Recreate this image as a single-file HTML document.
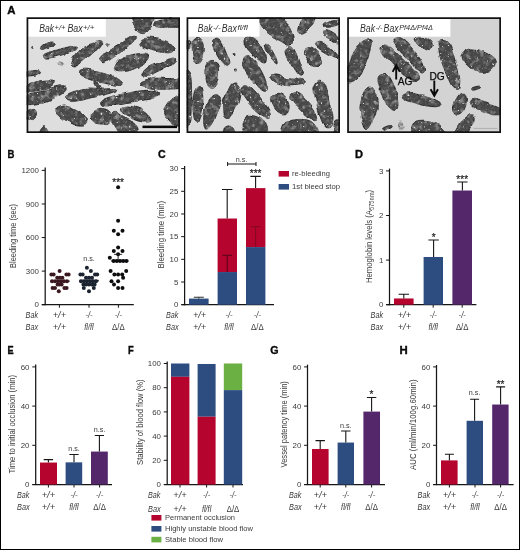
<!DOCTYPE html>
<html lang="en"><head><meta charset="utf-8"><title>Figure</title>
<style>html,body{margin:0;padding:0;background:#fff}body{width:520px;height:550px;overflow:hidden}svg{display:block;font-family:"Liberation Sans",sans-serif}</style>
</head><body>
<svg width="520" height="550" viewBox="0 0 520 550">
<defs><filter id="bl" filterUnits="userSpaceOnUse" x="20" y="10" width="490" height="130"><feTurbulence type="fractalNoise" baseFrequency="0.075" numOctaves="2" seed="5" result="t"/><feDisplacementMap in="SourceGraphic" in2="t" scale="5" xChannelSelector="R" yChannelSelector="G" result="d"/><feTurbulence type="fractalNoise" baseFrequency="0.38" numOctaves="2" seed="8" result="n"/><feColorMatrix in="n" type="matrix" values="0 0 0 0 0.8  0 0 0 0 0.8  0 0 0 0 0.8  8 0 0 0 -5.75" result="sp"/><feComposite in="sp" in2="d" operator="in" result="spi"/><feColorMatrix in="n" type="matrix" values="0 0 0 0 0.1  0 0 0 0 0.1  0 0 0 0 0.1  0 4 0 0 -1.9" result="dk"/><feComposite in="dk" in2="d" operator="in" result="dki"/><feTurbulence type="fractalNoise" baseFrequency="0.2" numOctaves="2" seed="21" result="n2"/><feColorMatrix in="n2" type="matrix" values="0 0 0 0 0.46  0 0 0 0 0.46  0 0 0 0 0.46  2 0 0 0 -1.02" result="mo"/><feComposite in="mo" in2="d" operator="in" result="moi"/><feMerge result="m"><feMergeNode in="d"/><feMergeNode in="moi"/><feMergeNode in="dki"/><feMergeNode in="spi"/></feMerge><feGaussianBlur in="m" stdDeviation="0.4"/></filter></defs>
<rect x="0" y="0" width="520" height="550" fill="#fff"/>
<g>
<clipPath id="cp1"><rect x="26.6" y="17.3" width="153.4" height="115.7"/></clipPath>
<rect x="26.6" y="17.3" width="153.4" height="115.7" fill="#dedede"/>
<g clip-path="url(#cp1)">
<g filter="url(#bl)">
<path d="M40.79 46.93C41.35 46.08 42.67 44.91 44.17 44.11C45.68 43.31 48.17 42.37 49.81 42.14C51.46 41.9 53.48 42.14 54.04 42.7C54.61 43.26 54.14 44.82 53.2 45.52C52.26 46.23 50 46.32 48.4 46.93C46.8 47.54 44.88 48.81 43.61 49.19C42.34 49.56 41.26 49.56 40.79 49.19C40.32 48.81 40.22 47.78 40.79 46.93Z" fill="#464646" stroke="#1c1c1c" stroke-width="0.9"/>
<path d="M44.39 54.37C45.99 53.43 50.03 51.78 53.41 50.7C56.8 49.62 61.17 48.68 64.69 47.88C68.22 47.08 72.45 46 74.56 45.91C76.68 45.81 77.38 46.52 77.38 47.32C77.38 48.12 76.68 49.53 74.56 50.7C72.45 51.88 67.98 53.29 64.69 54.37C61.4 55.45 57.88 56.58 54.82 57.19C51.77 57.8 48.2 58.17 46.36 58.03C44.53 57.89 44.15 56.95 43.82 56.34C43.5 55.73 42.79 55.31 44.39 54.37Z" fill="#464646" stroke="#1c1c1c" stroke-width="0.9"/>
<path d="M71.88 61.5C72.59 59.76 74.23 56.8 76.11 54.45C77.99 52.1 80.34 49.28 83.16 47.4C85.98 45.52 90.21 44.11 93.03 43.17C95.85 42.23 98.67 41.43 100.08 41.76C101.49 42.09 101.96 43.73 101.49 45.14C101.02 46.55 99.14 48.67 97.26 50.22C95.38 51.77 92.8 52.57 90.21 54.45C87.63 56.33 84.1 59.62 81.75 61.5C79.4 63.38 77.76 65.17 76.11 65.73C74.47 66.29 72.59 65.59 71.88 64.88C71.18 64.18 71.18 63.24 71.88 61.5Z" fill="#464646" stroke="#1c1c1c" stroke-width="0.9"/>
<path d="M100.6 58.42C101.77 56.78 104.59 53.72 107.65 51.37C110.7 49.02 115.4 46.67 118.93 44.32C122.45 41.97 126.21 38.77 128.8 37.27C131.38 35.77 133.17 35.16 134.44 35.3C135.71 35.44 137.12 36.61 136.41 38.12C135.71 39.62 132.65 42.11 130.21 44.32C127.76 46.53 124.8 49.02 121.75 51.37C118.69 53.72 114.79 56.54 111.88 58.42C108.96 60.3 106.14 62.18 104.26 62.65C102.38 63.12 101.21 61.95 100.6 61.24C99.99 60.54 99.42 60.07 100.6 58.42Z" fill="#464646" stroke="#1c1c1c" stroke-width="0.9"/>
<path d="M132.5 16.4C135.4 14.8 148.65 15.3 152 16.4C155.35 17.5 153 20.9 152.6 23C152.2 25.1 150.95 27.25 149.6 29C148.25 30.75 146.35 33 144.5 33.5C142.65 34 140.15 33.25 138.5 32C136.85 30.75 135.6 28.6 134.6 26C133.6 23.4 129.6 18 132.5 16.4Z" fill="#464646" stroke="#1c1c1c" stroke-width="0.9"/>
<path d="M155 23.6C155.5 22.6 156 20.8 158 20C160 19.2 162.75 18.9 167 18.8C171.25 18.7 180.75 18.1 183.5 19.4C186.25 20.7 185.75 25.3 183.5 26.6C181.25 27.9 174 27.1 170 27.2C166 27.3 162 27.4 159.5 27.2C157 27 155.75 26.6 155 26C154.25 25.4 154.5 24.6 155 23.6Z" fill="#464646" stroke="#1c1c1c" stroke-width="0.9"/>
<path d="M135.2 29C135.4 28.7 136.4 28.5 136.7 28.7C137 28.9 137.2 29.9 137 30.2C136.8 30.5 135.8 30.7 135.5 30.5C135.2 30.3 135 29.3 135.2 29Z" fill="#464646" stroke="#1c1c1c" stroke-width="0.9"/>
<path d="M105.2 44C105.4 43.7 106.4 43.5 106.7 43.7C107 43.9 107.2 44.9 107 45.2C106.8 45.5 105.8 45.7 105.5 45.5C105.2 45.3 105 44.3 105.2 44Z" fill="#464646" stroke="#1c1c1c" stroke-width="0.9"/>
<path d="M140.39 42.69C141.19 41.66 142.27 39.07 145.18 38.46C148.1 37.85 153.88 38.32 157.87 39.03C161.87 39.73 166.47 41.38 169.15 42.69C171.83 44.01 173.48 45.37 173.95 46.92C174.42 48.47 173.71 51.06 171.97 52C170.23 52.94 166.8 52.84 163.51 52.56C160.22 52.28 155.52 51.15 152.23 50.31C148.94 49.46 145.75 48.43 143.77 47.49C141.8 46.55 140.95 45.46 140.39 44.67C139.82 43.87 139.59 43.73 140.39 42.69Z" fill="#464646" stroke="#1c1c1c" stroke-width="0.9"/>
<path d="M114.06 66.28C115 64.4 116.88 61.11 119.7 59.23C122.52 57.35 126.98 56.03 130.98 55C134.97 53.97 140.75 53.03 143.67 53.03C146.58 53.03 147.99 53.73 148.46 55C148.93 56.27 147.99 58.76 146.49 60.64C144.98 62.52 142.26 64.64 139.44 66.28C136.62 67.93 132.86 69.57 129.57 70.51C126.28 71.45 122.28 71.92 119.7 71.92C117.11 71.92 115 71.45 114.06 70.51C113.12 69.57 113.12 68.16 114.06 66.28Z" fill="#464646" stroke="#1c1c1c" stroke-width="0.9"/>
<path d="M142.54 72.2C143.71 70.79 146.53 68.2 149.59 66.56C152.64 64.91 157.11 63.74 160.87 62.33C164.63 60.92 169.56 58.57 172.15 58.1C174.73 57.63 175.91 58.71 176.38 59.51C176.85 60.31 176.61 61.48 174.97 62.89C173.32 64.3 169.8 66.18 166.51 67.97C163.22 69.75 158.52 72.2 155.23 73.61C151.94 75.02 148.88 76.19 146.77 76.43C144.65 76.66 143.24 75.72 142.54 75.02C141.83 74.31 141.36 73.61 142.54 72.2Z" fill="#464646" stroke="#1c1c1c" stroke-width="0.9"/>
<path d="M79.84 71.4C80.63 70.46 82.66 69.24 85.48 69.15C88.3 69.05 92.76 69.99 96.76 70.84C100.75 71.68 105.69 72.72 109.45 74.22C113.21 75.73 117.06 78.22 119.32 79.86C121.57 81.51 122.98 83.15 122.98 84.09C122.98 85.03 121.57 85.5 119.32 85.5C117.06 85.5 112.97 84.66 109.45 84.09C105.92 83.53 101.93 83.06 98.17 82.12C94.41 81.18 89.8 79.67 86.89 78.45C83.97 77.23 81.86 75.96 80.68 74.79C79.51 73.61 79.04 72.34 79.84 71.4Z" fill="#464646" stroke="#1c1c1c" stroke-width="0.9"/>
<path d="M141.5 81.5C143.25 80.5 147.75 79 152 78.5C156.25 78 162 78.25 167 78.5C172 78.75 179.5 78.5 182 80C184.5 81.5 184 86 182 87.5C180 89 174 88.75 170 89C166 89.25 162 89.4 158 89C154 88.6 148.75 87.35 146 86.6C143.25 85.85 142.25 85.35 141.5 84.5C140.75 83.65 139.75 82.5 141.5 81.5Z" fill="#464646" stroke="#1c1c1c" stroke-width="0.9"/>
<path d="M26 72.5C27.75 71.4 34.1 70.4 36.5 70.4C38.9 70.4 40.4 71.65 40.4 72.5C40.4 73.35 38.9 74.75 36.5 75.5C34.1 76.25 27.75 77.5 26 77C24.25 76.5 24.25 73.6 26 72.5Z" fill="#464646" stroke="#1c1c1c" stroke-width="0.9"/>
<path d="M26 85.4C28 83.6 33.75 82.1 38 81.2C42.25 80.3 48.75 79.8 51.5 80C54.25 80.2 54.75 81.3 54.5 82.4C54.25 83.5 52.5 85.3 50 86.6C47.5 87.9 43.5 89.3 39.5 90.2C35.5 91.1 28.25 92.8 26 92C23.75 91.2 24 87.2 26 85.4Z" fill="#464646" stroke="#1c1c1c" stroke-width="0.9"/>
<path d="M26 95.6C28.5 93.5 36 92.9 41 91.4C46 89.9 52.1 87.5 56 86.6C59.9 85.7 62.8 85.35 64.4 86C66 86.65 66.5 88.9 65.6 90.5C64.7 92.1 62.1 93.85 59 95.6C55.9 97.35 51 99.6 47 101C43 102.4 38.5 103.5 35 104C31.5 104.5 27.5 105.4 26 104C24.5 102.6 23.5 97.7 26 95.6Z" fill="#464646" stroke="#1c1c1c" stroke-width="0.9"/>
<path d="M65.94 96.37C67.11 94.96 71.58 93.31 74.96 92.14C78.35 90.96 82.48 89.79 86.24 89.32C90 88.85 92.82 89.41 97.52 89.32C102.22 89.23 111.39 88.52 114.44 88.76C117.5 88.99 116.79 89.93 115.85 90.73C114.91 91.53 111.86 92.61 108.8 93.55C105.75 94.49 101.28 95.43 97.52 96.37C93.76 97.31 90 98.39 86.24 99.19C82.48 99.99 78.02 100.93 74.96 101.16C71.91 101.4 69.42 101.4 67.91 100.6C66.41 99.8 64.76 97.78 65.94 96.37Z" fill="#464646" stroke="#1c1c1c" stroke-width="0.9"/>
<path d="M101.33 100.83C102.83 99.42 107.2 97.77 111.2 96.6C115.19 95.42 120.6 94.72 125.3 93.78C130 92.84 134.7 91.52 139.4 90.96C144.1 90.39 150.21 90.16 153.5 90.39C156.79 90.63 158.43 91.33 159.14 92.37C159.84 93.4 159.61 95.42 157.73 96.6C155.85 97.77 151.85 98.62 147.86 99.42C143.86 100.21 138.46 100.68 133.76 101.39C129.06 102.09 123.89 102.89 119.66 103.65C115.43 104.4 111.29 105.67 108.38 105.9C105.46 106.14 103.35 105.9 102.17 105.06C101 104.21 99.82 102.24 101.33 100.83Z" fill="#464646" stroke="#1c1c1c" stroke-width="0.9"/>
<path d="M56.97 108.95C57.44 107.31 60.26 106.37 62.61 106.13C64.96 105.9 68.02 106.37 71.07 107.54C74.13 108.72 78.36 111.07 80.94 113.18C83.53 115.3 85.88 118.26 86.58 120.24C87.29 122.21 86.58 124.09 85.17 125.03C83.76 125.97 80.94 126.44 78.12 125.88C75.3 125.31 71.31 123.29 68.25 121.65C65.2 120 61.67 118.12 59.79 116C57.91 113.89 56.5 110.6 56.97 108.95Z" fill="#464646" stroke="#1c1c1c" stroke-width="0.9"/>
<path d="M90.31 114.65C91.11 112.63 94.31 109.95 96.8 109.01C99.29 108.07 102.91 108.31 105.26 109.01C107.61 109.72 109.82 111.36 110.9 113.24C111.98 115.12 112.45 118.41 111.75 120.29C111.04 122.17 108.93 123.82 106.67 124.52C104.41 125.23 100.65 125.09 98.21 124.52C95.77 123.96 93.32 122.79 92.01 121.14C90.69 119.5 89.51 116.67 90.31 114.65Z" fill="#464646" stroke="#1c1c1c" stroke-width="0.9"/>
<path d="M112.4 114.5C113.15 113.4 114.15 111.9 116 112.4C117.85 112.9 120.75 115.9 123.5 117.5C126.25 119.1 130.25 120.25 132.5 122C134.75 123.75 136.75 125.75 137 128C137.25 130.25 136.5 134.25 134 135.5C131.5 136.75 125.25 137.25 122 135.5C118.75 133.75 116.25 127.75 114.5 125C112.75 122.25 111.85 120.75 111.5 119C111.15 117.25 111.65 115.6 112.4 114.5Z" fill="#464646" stroke="#1c1c1c" stroke-width="0.9"/>
<path d="M122.25 108.85C123.28 107.77 125.54 106.03 128.45 106.03C131.37 106.03 136.44 107.44 139.73 108.85C143.02 110.26 146.31 112.61 148.19 114.49C150.07 116.37 151.48 118.86 151.01 120.13C150.54 121.4 147.96 122.11 145.37 122.11C142.79 122.11 138.56 121.17 135.5 120.13C132.45 119.1 129.25 117.17 127.04 115.9C124.83 114.63 123.05 113.69 122.25 112.52C121.45 111.34 121.21 109.93 122.25 108.85Z" fill="#464646" stroke="#1c1c1c" stroke-width="0.9"/>
<path d="M166.4 106.4C167.8 104.1 170.15 100.4 173 98.6C175.85 96.8 181.75 91.3 183.5 95.6C185.25 99.9 185.25 119.6 183.5 124.4C181.75 129.2 175.75 125.4 173 124.4C170.25 123.4 168.4 120.4 167 118.4C165.6 116.4 164.7 114.4 164.6 112.4C164.5 110.4 165 108.7 166.4 106.4Z" fill="#464646" stroke="#1c1c1c" stroke-width="0.9"/>
<path d="M26 113C27.25 111.4 31.75 109.5 33.5 109.4C35.25 109.3 36.35 111.05 36.5 112.4C36.65 113.75 36.15 116.4 34.4 117.5C32.65 118.6 27.4 119.75 26 119C24.6 118.25 24.75 114.6 26 113Z" fill="#464646" stroke="#1c1c1c" stroke-width="0.9"/>
<path d="M40.4 130.4C41.1 128.95 43.1 125.95 44.6 126.8C46.1 127.65 50.1 134.05 49.4 135.5C48.7 136.95 41.9 136.35 40.4 135.5C38.9 134.65 39.7 131.85 40.4 130.4Z" fill="#464646" stroke="#1c1c1c" stroke-width="0.9"/>
<path d="M93.5 81.5C93.75 80.8 95.35 81.15 96.5 82.4C97.65 83.65 99.55 87.4 100.4 89C101.25 90.6 101.9 91.6 101.6 92C101.3 92.4 99.7 92.3 98.6 91.4C97.5 90.5 95.85 88.25 95 86.6C94.15 84.95 93.25 82.2 93.5 81.5Z" fill="#464646" stroke="#1c1c1c" stroke-width="0.9"/>
<path d="M59 64.4C59 63.6 60.6 62 61.4 62C62.2 62 63.8 63.6 63.8 64.4C63.8 65.2 62.2 66.8 61.4 66.8C60.6 66.8 59 65.2 59 64.4Z" fill="#b4b4b4" stroke="#b4b4b4" stroke-width="0.9"/>
<path d="M30.8 47.9C30.95 47.6 31.75 47.4 32 47.6C32.25 47.8 32.45 48.8 32.3 49.1C32.15 49.4 31.35 49.6 31.1 49.4C30.85 49.2 30.65 48.2 30.8 47.9Z" fill="#464646" stroke="#1c1c1c" stroke-width="0.9"/>
</g>
<rect x="142.5" y="125.6" width="34.5" height="2.5" fill="#0a0a0a"/>
</g>
<rect x="27.6" y="18.3" width="78.2" height="18.4" fill="#fff"/>
<g font-style="italic" fill="#303030"><text x="39.2" y="31.6" font-size="10.6" textLength="14.8" lengthAdjust="spacingAndGlyphs">Bak</text><text x="54.5" y="29.9" font-size="8" textLength="10.9" lengthAdjust="spacingAndGlyphs">+/+</text><text x="67.4" y="31.6" font-size="10.6" textLength="15.2" lengthAdjust="spacingAndGlyphs">Bax</text><text x="83" y="29.9" font-size="8" textLength="11.4" lengthAdjust="spacingAndGlyphs">+/+</text></g>
<rect x="27.45" y="18.15" width="151.7" height="114" fill="none" stroke="#111" stroke-width="1.7"/>
</g>
<g>
<clipPath id="cp2"><rect x="186.6" y="17.3" width="153.4" height="115.7"/></clipPath>
<rect x="186.6" y="17.3" width="153.4" height="115.7" fill="#dadada"/>
<g clip-path="url(#cp2)">
<g filter="url(#bl)">
<path d="M192.93 40.12C193.87 38 196.31 37.06 198 37.3C199.7 37.53 202.05 39.41 203.08 41.53C204.11 43.64 204.35 47.17 204.21 49.99C204.07 52.81 203.27 56.33 202.23 58.45C201.2 60.56 199.41 62.68 198 62.68C196.59 62.68 194.71 60.56 193.77 58.45C192.83 56.33 192.51 53.04 192.36 49.99C192.22 46.93 191.99 42.23 192.93 40.12Z" fill="#464646" stroke="#1c1c1c" stroke-width="0.9"/>
<path d="M212.9 40.22C213.7 38.95 216.19 37.77 217.7 38.24C219.2 38.71 220.52 40.59 221.93 43.04C223.34 45.48 224.84 49.62 226.16 52.91C227.47 56.2 229.59 60.66 229.82 62.78C230.06 64.89 228.88 65.83 227.57 65.6C226.25 65.36 223.81 63.48 221.93 61.37C220.05 59.25 217.79 55.49 216.29 52.91C214.78 50.32 213.47 47.97 212.9 45.86C212.34 43.74 212.11 41.49 212.9 40.22Z" fill="#464646" stroke="#1c1c1c" stroke-width="0.9"/>
<path d="M205.89 65.56C206.97 62.6 209.65 60.95 211.53 60.48C213.41 60.01 216 60.95 217.17 62.74C218.35 64.52 218.58 68.14 218.58 71.2C218.58 74.25 218.11 78.25 217.17 81.07C216.23 83.89 214.49 87.18 212.94 88.12C211.39 89.06 209.18 88.35 207.87 86.71C206.55 85.06 205.37 81.77 205.05 78.25C204.72 74.72 204.81 68.52 205.89 65.56Z" fill="#464646" stroke="#1c1c1c" stroke-width="0.9"/>
<path d="M245.19 40.12C245.9 38.48 248.95 37.3 250.83 37.3C252.71 37.3 254.59 38.24 256.47 40.12C258.35 42 260.47 45.76 262.11 48.58C263.76 51.4 265.87 54.69 266.34 57.04C266.81 59.39 266.11 61.98 264.93 62.68C263.76 63.39 261.41 62.68 259.29 61.27C257.18 59.86 254.36 56.57 252.24 54.22C250.13 51.87 247.78 49.52 246.6 47.17C245.43 44.82 244.49 41.77 245.19 40.12Z" fill="#464646" stroke="#1c1c1c" stroke-width="0.9"/>
<path d="M259.5 17.6C262.1 16.35 271.5 16.1 276 17C280.5 17.9 284 20.5 286.5 23C289 25.5 289.85 29 291 32C292.15 35 293.65 38.75 293.4 41C293.15 43.25 291.4 45.25 289.5 45.5C287.6 45.75 284.75 44 282 42.5C279.25 41 275.9 38.5 273 36.5C270.1 34.5 266.7 32.5 264.6 30.5C262.5 28.5 261.25 26.65 260.4 24.5C259.55 22.35 256.9 18.85 259.5 17.6Z" fill="#464646" stroke="#1c1c1c" stroke-width="0.9"/>
<path d="M265.01 45.99C265.48 45.05 267.36 43.31 268.68 44.01C269.99 44.72 271.5 47.77 272.91 50.22C274.32 52.66 276.29 56.42 277.14 58.68C277.98 60.93 278.45 63.28 277.98 63.75C277.51 64.22 275.73 62.91 274.32 61.5C272.91 60.09 270.93 57.27 269.52 55.29C268.11 53.32 266.61 51.21 265.86 49.65C265.1 48.1 264.54 46.93 265.01 45.99Z" fill="#464646" stroke="#1c1c1c" stroke-width="0.9"/>
<path d="M285.53 49.24C286.38 47.83 289.52 45.95 291.17 46.42C292.81 46.89 293.99 49.24 295.4 52.06C296.81 54.88 298.45 59.82 299.63 63.34C300.8 66.87 302.45 71.1 302.45 73.21C302.45 75.33 300.95 76.5 299.63 76.03C298.31 75.56 296.2 72.74 294.55 70.39C292.91 68.04 291.17 64.52 289.76 61.93C288.35 59.35 286.8 57 286.09 54.88C285.39 52.77 284.68 50.65 285.53 49.24Z" fill="#464646" stroke="#1c1c1c" stroke-width="0.9"/>
<path d="M243.7 58.42C244.41 56.77 246.29 55.36 247.93 55.6C249.58 55.83 251.46 57.48 253.57 59.83C255.69 62.18 258.6 66.17 260.62 69.7C262.64 73.22 264.66 77.69 265.7 80.98C266.73 84.27 267.44 87.79 266.83 89.44C266.22 91.08 264.01 91.79 262.03 90.85C260.06 89.91 257.33 86.62 254.98 83.8C252.63 80.98 249.81 76.98 247.93 73.93C246.05 70.87 244.41 68.05 243.7 65.47C243 62.88 243 60.06 243.7 58.42Z" fill="#464646" stroke="#1c1c1c" stroke-width="0.9"/>
<path d="M271.01 77.22C271.72 76.28 273.83 74.73 276.65 74.97C279.47 75.2 283.94 77.88 287.94 78.63C291.93 79.38 297.71 78.96 300.63 79.48C303.54 80 305.42 80.89 305.42 81.73C305.42 82.58 303.3 83.9 300.63 84.55C297.95 85.21 293.11 85.87 289.35 85.68C285.58 85.49 280.88 84.27 278.06 83.43C275.24 82.58 273.6 81.64 272.42 80.61C271.25 79.57 270.31 78.16 271.01 77.22Z" fill="#464646" stroke="#1c1c1c" stroke-width="0.9"/>
<path d="M304.98 50.46C305.92 49.14 308.5 47.4 310.62 47.64C312.73 47.87 315.93 49.75 317.67 51.87C319.41 53.98 320.82 57.98 321.05 60.33C321.29 62.68 320.35 64.79 319.08 65.97C317.81 67.14 315.32 68.08 313.44 67.38C311.56 66.67 309.21 63.71 307.8 61.74C306.39 59.76 305.45 57.41 304.98 55.53C304.51 53.65 304.04 51.77 304.98 50.46Z" fill="#464646" stroke="#1c1c1c" stroke-width="0.9"/>
<path d="M297.6 30.5C297.6 28.8 298.4 25.35 299.4 23C300.4 20.65 301.1 17.5 303.6 16.4C306.1 15.3 312.75 15.2 314.4 16.4C316.05 17.6 314.4 21.5 313.5 23.6C312.6 25.7 310.65 27.5 309 29C307.35 30.5 305.2 31.9 303.6 32.6C302 33.3 300.4 33.55 299.4 33.2C298.4 32.85 297.6 32.2 297.6 30.5Z" fill="#464646" stroke="#1c1c1c" stroke-width="0.9"/>
<path d="M323.1 24.2C323.6 23.1 327.45 21.4 330 20.6C332.55 19.8 336.7 19 338.4 19.4C340.1 19.8 340.85 21.9 340.2 23C339.55 24.1 336.7 25.3 334.5 26C332.3 26.7 328.9 27.5 327 27.2C325.1 26.9 322.6 25.3 323.1 24.2Z" fill="#464646" stroke="#1c1c1c" stroke-width="0.9"/>
<path d="M321.6 32C322 31 324.85 30.4 327 30.8C329.15 31.2 332.4 32.95 334.5 34.4C336.6 35.85 339.05 38.1 339.6 39.5C340.15 40.9 339.15 42.55 337.8 42.8C336.45 43.05 333.7 42 331.5 41C329.3 40 326.25 38.3 324.6 36.8C322.95 35.3 321.2 33 321.6 32Z" fill="#464646" stroke="#1c1c1c" stroke-width="0.9"/>
<path d="M315.72 42.96C316.42 42.02 319.01 40.84 321.36 41.55C323.71 42.25 327.23 45.07 329.82 47.19C332.4 49.3 335.55 52.36 336.87 54.24C338.18 56.12 338.42 58 337.71 58.47C337.01 58.94 334.89 58.09 332.64 57.06C330.38 56.02 326.76 53.91 324.18 52.26C321.59 50.62 318.54 48.74 317.13 47.19C315.72 45.64 315.01 43.9 315.72 42.96Z" fill="#464646" stroke="#1c1c1c" stroke-width="0.9"/>
<path d="M314.07 87.59C314.64 85.34 316.57 81.34 318.3 80.54C320.04 79.74 323 80.78 324.51 82.8C326.01 84.82 326.39 88.67 327.33 92.67C328.27 96.67 329.21 102.54 330.15 106.77C331.09 111 332.97 114.67 332.97 118.05C332.97 121.43 331.56 125.76 330.15 127.07C328.74 128.39 326.25 127.92 324.51 125.95C322.77 123.97 320.98 118.9 319.71 115.23C318.45 111.56 317.69 107.48 316.89 103.95C316.1 100.43 315.39 96.81 314.92 94.08C314.45 91.35 313.51 89.85 314.07 87.59Z" fill="#464646" stroke="#1c1c1c" stroke-width="0.9"/>
<path d="M290.9 95.1C291.51 93.87 293.86 92.37 295.98 92.84C298.09 93.31 300.91 95.47 303.59 97.92C306.27 100.36 309.89 104.36 312.05 107.5C314.21 110.65 316.19 114.79 316.56 116.81C316.94 118.83 315.95 119.77 314.31 119.63C312.66 119.49 309.33 117.89 306.69 115.96C304.06 114.04 300.91 110.7 298.52 108.07C296.12 105.44 293.58 102.33 292.31 100.17C291.04 98.01 290.29 96.32 290.9 95.1Z" fill="#464646" stroke="#1c1c1c" stroke-width="0.9"/>
<path d="M272.01 96.92C272.95 95.37 275.54 93.4 277.65 93.26C279.77 93.11 282.82 94.29 284.7 96.08C286.58 97.86 288.46 101.34 288.93 103.97C289.4 106.6 288.7 110.22 287.52 111.87C286.35 113.51 283.86 114.22 281.88 113.84C279.91 113.47 277.32 111.49 275.68 109.61C274.03 107.73 272.62 104.68 272.01 102.56C271.4 100.45 271.07 98.47 272.01 96.92Z" fill="#464646" stroke="#1c1c1c" stroke-width="0.9"/>
<path d="M240.92 88.32C241.39 86.77 243.27 84.66 245.15 84.66C247.03 84.66 249.61 86.07 252.2 88.32C254.78 90.58 258.07 94.9 260.66 98.19C263.24 101.48 266.06 105.01 267.71 108.06C269.35 111.12 270.76 114.88 270.53 116.52C270.29 118.17 268.41 118.64 266.3 117.93C264.18 117.23 260.66 114.64 257.84 112.29C255.02 109.94 251.96 106.89 249.38 103.83C246.79 100.78 243.74 96.55 242.33 93.96C240.92 91.38 240.45 89.87 240.92 88.32Z" fill="#464646" stroke="#1c1c1c" stroke-width="0.9"/>
<path d="M222.58 103.74C223.05 99.75 225.4 95.66 226.81 92.46C228.22 89.26 229.4 86.07 231.04 84.56C232.69 83.06 235.18 82.59 236.68 83.44C238.18 84.28 239.69 86.96 240.06 89.64C240.44 92.32 239.74 96.22 238.94 99.51C238.14 102.8 236.82 106.33 235.27 109.38C233.72 112.44 231.51 116.67 229.63 117.84C227.75 119.02 225.17 118.78 223.99 116.43C222.82 114.08 222.11 107.74 222.58 103.74Z" fill="#464646" stroke="#1c1c1c" stroke-width="0.9"/>
<path d="M205.04 108.6C206.12 104.84 208.33 101.08 210.12 98.73C211.9 96.38 214.07 94.88 215.76 94.5C217.45 94.12 219.61 94.83 220.27 96.47C220.93 98.12 220.46 101.41 219.71 104.37C218.95 107.33 217.12 110.95 215.76 114.24C214.4 117.53 213.17 121.62 211.53 124.11C209.88 126.6 207.2 129.66 205.89 129.19C204.57 128.72 203.77 124.72 203.63 121.29C203.49 117.86 203.96 112.36 205.04 108.6Z" fill="#464646" stroke="#1c1c1c" stroke-width="0.9"/>
<path d="M195.19 92.71C195.99 89.88 197.45 86.12 198.57 85.65C199.7 85.18 201.25 86.83 201.96 89.88C202.66 92.94 202.99 99.52 202.8 103.99C202.62 108.45 201.72 113.48 200.83 116.68C199.94 119.87 198.48 123.4 197.45 123.16C196.41 122.93 195.24 118.7 194.63 115.27C194.01 111.83 193.69 106.34 193.78 102.58C193.87 98.82 194.39 95.53 195.19 92.71Z" fill="#464646" stroke="#1c1c1c" stroke-width="0.9"/>
<path d="M186 72.5C186.9 64.25 190.3 71.75 191.4 75.5C192.5 79.25 192.5 88.75 192.6 95C192.7 101.25 192.5 108.1 192 113C191.5 117.9 190.6 122.4 189.6 124.4C188.6 126.4 186.6 133.65 186 125C185.4 116.35 185.1 80.75 186 72.5Z" fill="#464646" stroke="#1c1c1c" stroke-width="0.9"/>
<path d="M243 120.5C244.1 118.65 246.25 115.9 249 115.4C251.75 114.9 256.75 116.15 259.5 117.5C262.25 118.85 264.65 120.5 265.5 123.5C266.35 126.5 267.85 133.5 264.6 135.5C261.35 137.5 249.7 137 246 135.5C242.3 134 242.9 129 242.4 126.5C241.9 124 241.9 122.35 243 120.5Z" fill="#464646" stroke="#1c1c1c" stroke-width="0.9"/>
<path d="M283.5 125C284.5 122.5 287.5 121.4 291 120.5C294.5 119.6 300.75 119.1 304.5 119.6C308.25 120.1 311.5 120.85 313.5 123.5C315.5 126.15 321.25 133.5 316.5 135.5C311.75 137.5 290.5 137.25 285 135.5C279.5 133.75 282.5 127.5 283.5 125Z" fill="#464646" stroke="#1c1c1c" stroke-width="0.9"/>
<path d="M334.2 122.6C334.55 120 336 120 336.9 119.9C337.8 119.8 339.05 119.4 339.6 122C340.15 124.6 341 133.25 340.2 135.5C339.4 137.75 335.8 137.65 334.8 135.5C333.8 133.35 333.85 125.2 334.2 122.6Z" fill="#464646" stroke="#1c1c1c" stroke-width="0.9"/>
<path d="M224.4 128C225.5 126.5 229.4 125.25 231 126.5C232.6 127.75 235.1 134 234 135.5C232.9 137 226 136.75 224.4 135.5C222.8 134.25 223.3 129.5 224.4 128Z" fill="#464646" stroke="#1c1c1c" stroke-width="0.9"/>
<path d="M186 41C186.75 39.5 189.75 39.15 190.5 40.4C191.25 41.65 191.25 47 190.5 48.5C189.75 50 186.75 50.65 186 49.4C185.25 48.15 185.25 42.5 186 41Z" fill="#464646" stroke="#1c1c1c" stroke-width="0.9"/>
<path d="M233.1 53.6C233.4 53.3 234.6 53.3 234.9 53.6C235.2 53.9 235.2 55.1 234.9 55.4C234.6 55.7 233.4 55.7 233.1 55.4C232.8 55.1 232.8 53.9 233.1 53.6Z" fill="#464646" stroke="#1c1c1c" stroke-width="0.9"/>
<path d="M234.6 70.1C234.9 69.8 236.1 69.8 236.4 70.1C236.7 70.4 236.7 71.6 236.4 71.9C236.1 72.2 234.9 72.2 234.6 71.9C234.3 71.6 234.3 70.4 234.6 70.1Z" fill="#464646" stroke="#1c1c1c" stroke-width="0.9"/>
</g>

</g>
<rect x="187.6" y="18.3" width="71.8" height="18.4" fill="#fff"/>
<g font-style="italic" fill="#303030"><text x="197.8" y="31.6" font-size="10.6" textLength="14.7" lengthAdjust="spacingAndGlyphs">Bak</text><text x="213" y="29.9" font-size="8" textLength="7.6" lengthAdjust="spacingAndGlyphs">-/-</text><text x="221.8" y="31.6" font-size="10.6" textLength="15" lengthAdjust="spacingAndGlyphs">Bax</text><text x="237.4" y="29.9" font-size="8" textLength="10.4" lengthAdjust="spacingAndGlyphs">fl/fl</text></g>
<rect x="187.45" y="18.15" width="151.7" height="114" fill="none" stroke="#111" stroke-width="1.7"/>
</g>
<g>
<clipPath id="cp3"><rect x="347.2" y="17.3" width="153.8" height="115.7"/></clipPath>
<rect x="347.2" y="17.3" width="153.8" height="115.7" fill="#d3d3d3"/>
<g clip-path="url(#cp3)">
<g filter="url(#bl)">
<path d="M349 62C350.5 57.75 352.6 53.4 355 50C357.4 46.6 360.9 43.35 363.4 41.6C365.9 39.85 368.5 39.35 370 39.5C371.5 39.65 372.3 40.5 372.4 42.5C372.5 44.5 371.5 48.25 370.6 51.5C369.7 54.75 368.5 58.5 367 62C365.5 65.5 363.5 69.6 361.6 72.5C359.7 75.4 357.6 77.85 355.6 79.4C353.6 80.95 351.2 82.45 349.6 81.8C348 81.15 346.1 78.8 346 75.5C345.9 72.2 347.5 66.25 349 62Z" fill="#464646" stroke="#1c1c1c" stroke-width="0.9"/>
<path d="M380.18 47.94C380.51 46.43 382.53 44.55 384.41 44.55C386.29 44.55 388.64 45.73 391.46 47.94C394.28 50.15 398.04 54.52 401.33 57.81C404.62 61.1 408.38 64.62 411.2 67.68C414.02 70.73 417.31 74.02 418.25 76.14C419.19 78.25 418.25 79.9 416.84 80.37C415.43 80.84 412.61 80.37 409.79 78.96C406.97 77.55 403.21 74.73 399.92 71.91C396.63 69.09 392.97 65.09 390.05 62.04C387.14 58.98 384.08 55.93 382.44 53.58C380.79 51.23 379.85 49.44 380.18 47.94Z" fill="#464646" stroke="#1c1c1c" stroke-width="0.9"/>
<path d="M393.55 40.43C393.79 38.55 397.08 37.37 399.19 37.61C401.31 37.84 403.66 39.49 406.24 41.84C408.83 44.19 412.12 48.42 414.7 51.71C417.29 55 420.11 58.52 421.75 61.58C423.4 64.63 424.57 68.16 424.57 70.04C424.57 71.92 423.4 73.33 421.75 72.86C420.11 72.39 417.29 69.8 414.7 67.22C412.12 64.63 409.06 60.4 406.24 57.35C403.42 54.29 399.9 51.71 397.78 48.89C395.67 46.07 393.32 42.31 393.55 40.43Z" fill="#464646" stroke="#1c1c1c" stroke-width="0.9"/>
<path d="M414.09 38.86C414.56 37.78 417.38 36.74 419.73 36.89C422.08 37.03 426.08 38.3 428.19 39.71C430.31 41.12 432.19 43.7 432.42 45.35C432.66 46.99 431.25 49.34 429.6 49.58C427.96 49.81 424.67 47.79 422.55 46.76C420.44 45.72 418.32 44.69 416.91 43.37C415.5 42.06 413.62 39.94 414.09 38.86Z" fill="#464646" stroke="#1c1c1c" stroke-width="0.9"/>
<path d="M438.19 42.37C438.9 40.02 441.95 39.31 443.83 39.55C445.71 39.78 447.92 41.19 449.47 43.78C451.02 46.36 451.96 51.06 453.14 55.06C454.31 59.05 455.58 63.52 456.52 67.75C457.46 71.98 458.69 76.91 458.78 80.44C458.87 83.96 458.17 87.72 457.09 88.9C456.01 90.07 453.89 89.37 452.29 87.49C450.7 85.61 449.05 81.38 447.5 77.62C445.95 73.86 444.3 68.92 442.99 64.93C441.67 60.93 440.4 57.41 439.6 53.65C438.8 49.89 437.49 44.72 438.19 42.37Z" fill="#464646" stroke="#1c1c1c" stroke-width="0.9"/>
<path d="M462.5 54.87C463.3 52.99 465.55 50.03 468.14 49.23C470.72 48.44 474.48 49.14 478.01 50.08C481.53 51.02 486.47 53.14 489.29 54.87C492.11 56.61 494.22 58.4 494.93 60.51C495.63 62.63 494.93 65.68 493.52 67.56C492.11 69.44 489.29 71.09 486.47 71.79C483.65 72.5 479.65 72.73 476.6 71.79C473.54 70.85 470.35 68.03 468.14 66.15C465.93 64.27 464.28 62.39 463.34 60.51C462.4 58.63 461.7 56.75 462.5 54.87Z" fill="#464646" stroke="#1c1c1c" stroke-width="0.9"/>
<path d="M378.16 77.88C378.63 75.53 380.75 74.12 382.39 73.65C384.04 73.18 386.15 73.18 388.03 75.06C389.91 76.94 392.17 81.41 393.67 84.93C395.18 88.46 396.35 92.69 397.06 96.21C397.76 99.74 398.23 103.73 397.9 106.08C397.57 108.43 396.49 110.08 395.08 110.31C393.67 110.55 391.32 109.61 389.44 107.49C387.56 105.38 385.45 100.91 383.8 97.62C382.16 94.33 380.51 91.04 379.57 87.75C378.63 84.46 377.69 80.23 378.16 77.88Z" fill="#464646" stroke="#1c1c1c" stroke-width="0.9"/>
<path d="M404.11 95.29C405.28 94.35 408.1 92.57 411.16 92.47C414.21 92.38 418.68 93.79 422.44 94.73C426.2 95.67 430.66 96.85 433.72 98.11C436.77 99.38 439.83 101.03 440.77 102.34C441.71 103.66 441 105.31 439.36 106.01C437.71 106.72 434.19 106.86 430.9 106.57C427.61 106.29 423.38 105.26 419.62 104.32C415.86 103.38 410.92 101.97 408.34 100.93C405.75 99.9 404.81 99.05 404.11 98.11C403.4 97.17 402.93 96.23 404.11 95.29Z" fill="#464646" stroke="#1c1c1c" stroke-width="0.9"/>
<path d="M361.45 99.96C362.15 97.37 363.09 93.61 364.27 91.5C365.44 89.38 366.99 87.69 368.5 87.27C370 86.84 371.84 87.45 373.29 88.96C374.75 90.46 376.39 93.52 377.24 96.29C378.09 99.06 378.65 102.63 378.37 105.6C378.09 108.56 376.72 111.24 375.55 114.06C374.37 116.88 372.73 120.02 371.32 122.52C369.91 125.01 368.36 128.2 367.09 129C365.82 129.8 364.74 129.57 363.7 127.31C362.67 125.05 361.5 118.85 360.88 115.47C360.27 112.08 359.94 109.59 360.04 107.01C360.13 104.42 360.74 102.54 361.45 99.96Z" fill="#464646" stroke="#1c1c1c" stroke-width="0.9"/>
<path d="M452.64 106.29C453.16 103.84 455.18 99.99 456.59 97.83C458 95.67 459.6 93.69 461.1 93.32C462.6 92.94 464.77 93.88 465.61 95.57C466.46 97.26 466.65 100.74 466.18 103.47C465.71 106.19 464.2 109.95 462.79 111.93C461.38 113.9 459.27 115.22 457.72 115.31C456.16 115.41 454.33 114 453.49 112.49C452.64 110.99 452.12 108.73 452.64 106.29Z" fill="#464646" stroke="#1c1c1c" stroke-width="0.9"/>
<path d="M470.5 101C471.25 100 473.5 99 476.5 99.5C479.5 100 484.75 102.5 488.5 104C492.25 105.5 496.5 107 499 108.5C501.5 110 504.75 112.15 503.5 113C502.25 113.85 495.25 114 491.5 113.6C487.75 113.2 484.25 111.95 481 110.6C477.75 109.25 473.75 107.1 472 105.5C470.25 103.9 469.75 102 470.5 101Z" fill="#464646" stroke="#1c1c1c" stroke-width="0.9"/>
<path d="M455.5 131C456.5 129 458.25 125.75 460 123.5C461.75 121.25 464.1 119.15 466 117.5C467.9 115.85 469.9 113.85 471.4 113.6C472.9 113.35 474.5 114.6 475 116C475.5 117.4 475.15 120 474.4 122C473.65 124 471.9 125.75 470.5 128C469.1 130.25 468.75 134.25 466 135.5C463.25 136.75 455.75 136.25 454 135.5C452.25 134.75 454.5 133 455.5 131Z" fill="#464646" stroke="#1c1c1c" stroke-width="0.9"/>
<path d="M413.5 125C414.35 122.65 416.25 121.8 419.5 121.4C422.75 121 429.25 121.5 433 122.6C436.75 123.7 440.1 125.85 442 128C443.9 130.15 449 134.25 444.4 135.5C439.8 136.75 419.55 137.25 414.4 135.5C409.25 133.75 412.65 127.35 413.5 125Z" fill="#464646" stroke="#1c1c1c" stroke-width="0.9"/>
<path d="M383.5 128.6C384.1 127.9 386.5 126.7 388 126.2C389.5 125.7 391.7 125.4 392.5 125.6C393.3 125.8 393.45 126.8 392.8 127.4C392.15 128 390 128.7 388.6 129.2C387.2 129.7 385.25 130.5 384.4 130.4C383.55 130.3 382.9 129.3 383.5 128.6Z" fill="#464646" stroke="#1c1c1c" stroke-width="0.9"/>
<path d="M472 88.4C473 87.7 478.1 86.1 479.5 86C480.9 85.9 481.4 87.1 480.4 87.8C479.4 88.5 474.9 90.1 473.5 90.2C472.1 90.3 471 89.1 472 88.4Z" fill="#464646" stroke="#1c1c1c" stroke-width="0.9"/>
<path d="M398.5 122.6C398.75 121.35 400.75 120.45 401.5 121.1C402.25 121.75 403.25 125.25 403 126.5C402.75 127.75 400.75 129.25 400 128.6C399.25 127.95 398.25 123.85 398.5 122.6Z" fill="#9c9c9c" stroke="#9c9c9c" stroke-width="0.9"/>
</g>
<g stroke="#0a0a0a" stroke-width="1.9" fill="none" stroke-linecap="butt"><path d="M396.2 79.4V66M392.6 71.9L396.2 65.3L399.8 71.9"/><path d="M434.3 80.6V95M430.6 89.2L434.3 95.8L438 89.2"/></g><text x="397.7" y="84.6" font-size="10.2" fill="#0a0a0a" stroke="#0a0a0a" stroke-width="0.25">AG</text><text x="429.4" y="79.8" font-size="10.2" fill="#0a0a0a" stroke="#0a0a0a" stroke-width="0.25">DG</text><path d="M473.5 128.4H497.5" stroke="#8a8a8a" stroke-width="0.5"/>
</g>
<rect x="348.2" y="18.3" width="102.2" height="18.4" fill="#fff"/>
<g font-style="italic" fill="#303030"><text x="360" y="31.6" font-size="10.6" textLength="15" lengthAdjust="spacingAndGlyphs">Bak</text><text x="375.6" y="29.9" font-size="8" textLength="7" lengthAdjust="spacingAndGlyphs">-/-</text><text x="383.6" y="31.6" font-size="10.6" textLength="15" lengthAdjust="spacingAndGlyphs">Bax</text><text x="399.2" y="29.9" font-size="8" textLength="33.8" lengthAdjust="spacingAndGlyphs">Pf4&#916;/Pf4&#916;</text></g>
<rect x="348.05" y="18.15" width="152.1" height="114" fill="none" stroke="#111" stroke-width="1.7"/>
</g>
<text x="7.3" y="14" font-size="10.3" font-weight="bold" textLength="8.2" lengthAdjust="spacingAndGlyphs" fill="#0a0a0a" stroke="#0a0a0a" stroke-width="0.35">A</text>
<text x="7.6" y="157.5" font-size="10.3" font-weight="bold" textLength="6.9" lengthAdjust="spacingAndGlyphs" fill="#0a0a0a" stroke="#0a0a0a" stroke-width="0.35">B</text>
<text x="157.9" y="158" font-size="10.3" font-weight="bold" textLength="7.7" lengthAdjust="spacingAndGlyphs" fill="#0a0a0a" stroke="#0a0a0a" stroke-width="0.35">C</text>
<text x="355" y="158" font-size="10.3" font-weight="bold" textLength="8" lengthAdjust="spacingAndGlyphs" fill="#0a0a0a" stroke="#0a0a0a" stroke-width="0.35">D</text>
<text x="7.6" y="354.2" font-size="10.3" font-weight="bold" textLength="6.1" lengthAdjust="spacingAndGlyphs" fill="#0a0a0a" stroke="#0a0a0a" stroke-width="0.35">E</text>
<text x="128" y="354.2" font-size="10.3" font-weight="bold" textLength="5.7" lengthAdjust="spacingAndGlyphs" fill="#0a0a0a" stroke="#0a0a0a" stroke-width="0.35">F</text>
<text x="270.3" y="354.2" font-size="10.3" font-weight="bold" textLength="8.3" lengthAdjust="spacingAndGlyphs" fill="#0a0a0a" stroke="#0a0a0a" stroke-width="0.35">G</text>
<text x="399.4" y="354.2" font-size="10.3" font-weight="bold" textLength="8.2" lengthAdjust="spacingAndGlyphs" fill="#0a0a0a" stroke="#0a0a0a" stroke-width="0.35">H</text>
<path d="M45.2 167.6L45.2 305.32" stroke="#161616" stroke-width="1.25" fill="none"/>
<path d="M41.8 304.7L133.8 304.7" stroke="#161616" stroke-width="1.25" fill="none"/>
<path d="M41.78 304.7L45.2 304.7" stroke="#161616" stroke-width="1" fill="none"/>
<text x="39" y="307.4" font-size="7.9" text-anchor="end" fill="#3a3a3c">0</text>
<path d="M41.78 271.12L45.2 271.12" stroke="#161616" stroke-width="1" fill="none"/>
<text x="39" y="273.82" font-size="7.9" text-anchor="end" fill="#3a3a3c">300</text>
<path d="M41.78 237.55L45.2 237.55" stroke="#161616" stroke-width="1" fill="none"/>
<text x="39" y="240.25" font-size="7.9" text-anchor="end" fill="#3a3a3c">600</text>
<path d="M41.78 203.97L45.2 203.97" stroke="#161616" stroke-width="1" fill="none"/>
<text x="39" y="206.67" font-size="7.9" text-anchor="end" fill="#3a3a3c">900</text>
<path d="M41.78 170.4L45.2 170.4" stroke="#161616" stroke-width="1" fill="none"/>
<text x="39" y="173.1" font-size="7.9" text-anchor="end" fill="#3a3a3c">1200</text>
<path d="M59.4 304.7L59.4 307.7" stroke="#161616" stroke-width="1" fill="none"/>
<path d="M89 304.7L89 307.7" stroke="#161616" stroke-width="1" fill="none"/>
<path d="M118.4 304.7L118.4 307.7" stroke="#161616" stroke-width="1" fill="none"/>
<text transform="translate(15.6 236) rotate(-90)" font-size="9.2" text-anchor="middle" textLength="64" lengthAdjust="spacingAndGlyphs" fill="#3a3a3c">Bleeding time (sec)</text>
<text x="25.6" y="318.4" font-size="8.2" font-style="italic" textLength="12.4" lengthAdjust="spacingAndGlyphs" fill="#3a3a3c">Bak</text>
<text x="25.6" y="330" font-size="8.2" font-style="italic" textLength="12.6" lengthAdjust="spacingAndGlyphs" fill="#3a3a3c">Bax</text>
<text x="59.4" y="318.4" font-size="8.2" text-anchor="middle" font-style="italic" textLength="13.4" lengthAdjust="spacingAndGlyphs" fill="#3a3a3c">+/+</text>
<text x="59.4" y="330" font-size="8.2" text-anchor="middle" font-style="italic" textLength="13.4" lengthAdjust="spacingAndGlyphs" fill="#3a3a3c">+/+</text>
<text x="89" y="318.4" font-size="8.2" text-anchor="middle" font-style="italic" textLength="7.2" lengthAdjust="spacingAndGlyphs" fill="#3a3a3c">-/-</text>
<text x="89" y="330" font-size="8.2" text-anchor="middle" font-style="italic" textLength="9.4" lengthAdjust="spacingAndGlyphs" fill="#3a3a3c">fl/fl</text>
<text x="118.4" y="318.4" font-size="8.2" text-anchor="middle" font-style="italic" textLength="7.2" lengthAdjust="spacingAndGlyphs" fill="#3a3a3c">-/-</text>
<text x="118.4" y="330" font-size="8.2" text-anchor="middle" textLength="12.6" lengthAdjust="spacingAndGlyphs" fill="#3a3a3c">&#916;/&#916;</text>
<g fill="#3b1820"><circle cx="59.6" cy="271.12" r="2"/><circle cx="51.4" cy="274.48" r="2"/><circle cx="53.6" cy="274.48" r="2"/><circle cx="66.4" cy="274.48" r="2"/><circle cx="68.6" cy="274.48" r="2"/><circle cx="57.2" cy="277.84" r="2"/><circle cx="59.8" cy="277.84" r="2"/><circle cx="62.4" cy="277.84" r="2"/><circle cx="52" cy="281.2" r="2"/><circle cx="55" cy="281.2" r="2"/><circle cx="58" cy="281.2" r="2"/><circle cx="61" cy="281.2" r="2"/><circle cx="64" cy="281.2" r="2"/><circle cx="67" cy="281.2" r="2"/><circle cx="57.6" cy="284.56" r="2"/><circle cx="61.6" cy="284.56" r="2"/><circle cx="59.6" cy="284.56" r="2"/><circle cx="52.6" cy="287.91" r="2"/><circle cx="55" cy="287.91" r="2"/><circle cx="64.4" cy="287.91" r="2"/><circle cx="66.6" cy="287.91" r="2"/><circle cx="58.8" cy="291.27" r="2"/></g>
<g fill="#1b2230"><circle cx="86.9" cy="267.77" r="2"/><circle cx="90.9" cy="271.12" r="2"/><circle cx="80.4" cy="274.48" r="2"/><circle cx="82.6" cy="274.48" r="2"/><circle cx="95" cy="274.48" r="2"/><circle cx="97.2" cy="274.48" r="2"/><circle cx="86" cy="277.84" r="2"/><circle cx="89" cy="277.84" r="2"/><circle cx="92" cy="277.84" r="2"/><circle cx="81" cy="281.2" r="2"/><circle cx="84" cy="281.2" r="2"/><circle cx="87" cy="281.2" r="2"/><circle cx="90" cy="281.2" r="2"/><circle cx="93" cy="281.2" r="2"/><circle cx="96" cy="281.2" r="2"/><circle cx="83.4" cy="284.56" r="2"/><circle cx="86.2" cy="284.56" r="2"/><circle cx="89" cy="284.56" r="2"/><circle cx="91.8" cy="284.56" r="2"/><circle cx="94.6" cy="284.56" r="2"/><circle cx="83.8" cy="287.91" r="2"/><circle cx="93.8" cy="287.91" r="2"/><circle cx="89" cy="291.27" r="2"/></g>
<g fill="#0d0d0f"><circle cx="118.1" cy="187.19" r="2"/><circle cx="118.1" cy="220.76" r="2"/><circle cx="113.8" cy="230.83" r="2"/><circle cx="122.5" cy="230.83" r="2"/><circle cx="118.1" cy="234.19" r="2"/><circle cx="118.1" cy="247.62" r="2"/><circle cx="113.8" cy="250.98" r="2"/><circle cx="122.5" cy="250.98" r="2"/><circle cx="118.1" cy="254.34" r="2"/><circle cx="109.8" cy="257.69" r="2"/><circle cx="113.6" cy="261.05" r="2"/><circle cx="116.8" cy="261.05" r="2"/><circle cx="120" cy="261.05" r="2"/><circle cx="123.2" cy="261.05" r="2"/><circle cx="126.4" cy="261.05" r="2"/><circle cx="110.6" cy="271.12" r="2"/><circle cx="126.2" cy="271.12" r="2"/><circle cx="114.4" cy="274.48" r="2"/><circle cx="118.1" cy="274.48" r="2"/><circle cx="122.2" cy="274.48" r="2"/><circle cx="123.1" cy="277.84" r="2"/><circle cx="111.5" cy="281.2" r="2"/><circle cx="118.1" cy="281.2" r="2"/><circle cx="114" cy="284.56" r="2"/><circle cx="118.1" cy="287.91" r="2"/><circle cx="122.5" cy="287.91" r="2"/></g>
<path d="M50.4 281.2L69.6 281.2" stroke="#3b1820" stroke-width="1.6" fill="none"/>
<path d="M79.4 280.64L98.8 280.64" stroke="#1b2230" stroke-width="1.6" fill="none"/>
<path d="M111.5 260.83L128.4 260.83" stroke="#0d0d0f" stroke-width="2.2" fill="none"/>
<path d="M118.1 260.83V254.34M114.1 254.34H122.1" stroke="#161616" stroke-width="0.9" fill="none"/>
<text x="89" y="260.8" font-size="7.6" text-anchor="middle" textLength="11.6" lengthAdjust="spacingAndGlyphs" fill="#3a3a3c">n.s.</text>
<text x="118.1" y="185.5" font-size="10" text-anchor="middle" textLength="11.7" lengthAdjust="spacingAndGlyphs" fill="#222" stroke="#222" stroke-width="0.2">***</text>
<path d="M184.6 166L184.6 305.32" stroke="#161616" stroke-width="1.25" fill="none"/>
<path d="M181.4 304.7L274 304.7" stroke="#161616" stroke-width="1.25" fill="none"/>
<path d="M181.17 304.7L184.6 304.7" stroke="#161616" stroke-width="1" fill="none"/>
<text x="178.4" y="307.4" font-size="7.9" text-anchor="end" fill="#3a3a3c">0</text>
<path d="M181.17 282.02L184.6 282.02" stroke="#161616" stroke-width="1" fill="none"/>
<text x="178.4" y="284.72" font-size="7.9" text-anchor="end" fill="#3a3a3c">5</text>
<path d="M181.17 259.34L184.6 259.34" stroke="#161616" stroke-width="1" fill="none"/>
<text x="178.4" y="262.04" font-size="7.9" text-anchor="end" fill="#3a3a3c">10</text>
<path d="M181.17 236.66L184.6 236.66" stroke="#161616" stroke-width="1" fill="none"/>
<text x="178.4" y="239.36" font-size="7.9" text-anchor="end" fill="#3a3a3c">15</text>
<path d="M181.17 213.98L184.6 213.98" stroke="#161616" stroke-width="1" fill="none"/>
<text x="178.4" y="216.68" font-size="7.9" text-anchor="end" fill="#3a3a3c">20</text>
<path d="M181.17 191.3L184.6 191.3" stroke="#161616" stroke-width="1" fill="none"/>
<text x="178.4" y="194" font-size="7.9" text-anchor="end" fill="#3a3a3c">25</text>
<path d="M181.17 168.62L184.6 168.62" stroke="#161616" stroke-width="1" fill="none"/>
<text x="178.4" y="171.32" font-size="7.9" text-anchor="end" fill="#3a3a3c">30</text>
<text transform="translate(163.6 234.7) rotate(-90)" font-size="9.2" text-anchor="middle" textLength="67.8" lengthAdjust="spacingAndGlyphs" fill="#3a3a3c">Bleeding time (min)</text>
<text x="166" y="318.4" font-size="8.2" font-style="italic" textLength="12.4" lengthAdjust="spacingAndGlyphs" fill="#3a3a3c">Bak</text>
<text x="166" y="330" font-size="8.2" font-style="italic" textLength="12.6" lengthAdjust="spacingAndGlyphs" fill="#3a3a3c">Bax</text>
<text x="199.6" y="318.4" font-size="8.2" text-anchor="middle" font-style="italic" textLength="13.4" lengthAdjust="spacingAndGlyphs" fill="#3a3a3c">+/+</text>
<text x="199.6" y="330" font-size="8.2" text-anchor="middle" font-style="italic" textLength="13.4" lengthAdjust="spacingAndGlyphs" fill="#3a3a3c">+/+</text>
<text x="229" y="318.4" font-size="8.2" text-anchor="middle" font-style="italic" textLength="7.2" lengthAdjust="spacingAndGlyphs" fill="#3a3a3c">-/-</text>
<text x="229" y="330" font-size="8.2" text-anchor="middle" font-style="italic" textLength="9.4" lengthAdjust="spacingAndGlyphs" fill="#3a3a3c">fl/fl</text>
<text x="257.4" y="318.4" font-size="8.2" text-anchor="middle" font-style="italic" textLength="7.2" lengthAdjust="spacingAndGlyphs" fill="#3a3a3c">-/-</text>
<text x="257.4" y="330" font-size="8.2" text-anchor="middle" textLength="12.6" lengthAdjust="spacingAndGlyphs" fill="#3a3a3c">&#916;/&#916;</text>
<rect x="189" y="298.58" width="19.6" height="6.12" fill="#2d4d80"/>
<path d="M198.8 298.58V297.22M193.8 297.22H203.8" stroke="#161616" stroke-width="0.9" fill="none"/>
<rect x="217.6" y="218.52" width="19.4" height="53.52" fill="#b5042e"/>
<rect x="217.6" y="272.04" width="19.4" height="32.66" fill="#2d4d80"/>
<path d="M227.2 218.52V189.49M222 189.49H232.4" stroke="#161616" stroke-width="1.1" fill="none"/>
<path d="M227.2 272.04V255.26M222.4 255.26H232" stroke="#4a0512" stroke-width="0.9" fill="none"/>
<rect x="246" y="188.12" width="19.4" height="58.97" fill="#b5042e"/>
<rect x="246" y="247.09" width="19.4" height="57.61" fill="#2d4d80"/>
<path d="M255.6 188.12V176.33M250.4 176.33H260.8" stroke="#161616" stroke-width="1.1" fill="none"/>
<path d="M255.6 247.09V226.68M250.8 226.68H260.4" stroke="#6d0a1e" stroke-width="0.7" fill="none"/>
<path d="M227.6 162V166M227.6 164H256M256 162V166" stroke="#161616" stroke-width="1" fill="none"/>
<text x="241.6" y="161.6" font-size="7.6" text-anchor="middle" textLength="11.6" lengthAdjust="spacingAndGlyphs" fill="#3a3a3c">n.s.</text>
<text x="255.6" y="176.5" font-size="10" text-anchor="middle" textLength="11.7" lengthAdjust="spacingAndGlyphs" fill="#222" stroke="#222" stroke-width="0.2">***</text>
<rect x="278.6" y="171" width="10.4" height="5.6" fill="#b5042e"/>
<rect x="278.6" y="184" width="10.4" height="5.6" fill="#2d4d80"/>
<text x="292" y="176.2" font-size="7.8" textLength="38" lengthAdjust="spacingAndGlyphs" fill="#3a3a3c">re-bleeding</text>
<text x="292" y="189.2" font-size="7.8" textLength="48" lengthAdjust="spacingAndGlyphs" fill="#3a3a3c">1st bleed stop</text>
<path d="M389.5 168.6L389.5 305.32" stroke="#161616" stroke-width="1.25" fill="none"/>
<path d="M386.2 304.7L476.4 304.7" stroke="#161616" stroke-width="1.25" fill="none"/>
<path d="M386.07 304.7L389.5 304.7" stroke="#161616" stroke-width="1" fill="none"/>
<text x="383.3" y="307.4" font-size="7.9" text-anchor="end" fill="#3a3a3c">0</text>
<path d="M386.07 260.1L389.5 260.1" stroke="#161616" stroke-width="1" fill="none"/>
<text x="383.3" y="262.8" font-size="7.9" text-anchor="end" fill="#3a3a3c">1</text>
<path d="M386.07 215.5L389.5 215.5" stroke="#161616" stroke-width="1" fill="none"/>
<text x="383.3" y="218.2" font-size="7.9" text-anchor="end" fill="#3a3a3c">2</text>
<path d="M386.07 170.9L389.5 170.9" stroke="#161616" stroke-width="1" fill="none"/>
<text x="383.3" y="173.6" font-size="7.9" text-anchor="end" fill="#3a3a3c">3</text>
<path d="M403.8 304.7L403.8 307.7" stroke="#161616" stroke-width="1" fill="none"/>
<path d="M433.2 304.7L433.2 307.7" stroke="#161616" stroke-width="1" fill="none"/>
<path d="M462.2 304.7L462.2 307.7" stroke="#161616" stroke-width="1" fill="none"/>
<text transform="translate(372 236.5) rotate(-90)" font-size="9.2" text-anchor="middle" fill="#3a3a3c" textLength="93" lengthAdjust="spacingAndGlyphs">Hemoglobin levels (A<tspan font-size="6.8" dy="1.6">575nm</tspan><tspan dy="-1.6">)</tspan></text>
<text x="370.6" y="318.4" font-size="8.2" font-style="italic" textLength="12.4" lengthAdjust="spacingAndGlyphs" fill="#3a3a3c">Bak</text>
<text x="370.6" y="330" font-size="8.2" font-style="italic" textLength="12.6" lengthAdjust="spacingAndGlyphs" fill="#3a3a3c">Bax</text>
<text x="404.4" y="318.4" font-size="8.2" text-anchor="middle" font-style="italic" textLength="13.4" lengthAdjust="spacingAndGlyphs" fill="#3a3a3c">+/+</text>
<text x="404.4" y="330" font-size="8.2" text-anchor="middle" font-style="italic" textLength="13.4" lengthAdjust="spacingAndGlyphs" fill="#3a3a3c">+/+</text>
<text x="433.2" y="318.4" font-size="8.2" text-anchor="middle" font-style="italic" textLength="7.2" lengthAdjust="spacingAndGlyphs" fill="#3a3a3c">-/-</text>
<text x="433.2" y="330" font-size="8.2" text-anchor="middle" font-style="italic" textLength="9.4" lengthAdjust="spacingAndGlyphs" fill="#3a3a3c">fl/fl</text>
<text x="462.2" y="318.4" font-size="8.2" text-anchor="middle" font-style="italic" textLength="7.2" lengthAdjust="spacingAndGlyphs" fill="#3a3a3c">-/-</text>
<text x="462.2" y="330" font-size="8.2" text-anchor="middle" textLength="12.6" lengthAdjust="spacingAndGlyphs" fill="#3a3a3c">&#916;/&#916;</text>
<rect x="394" y="298.46" width="19.6" height="6.24" fill="#b5042e"/>
<path d="M403.8 298.46V294.22M398.6 294.22H409" stroke="#161616" stroke-width="1.1" fill="none"/>
<rect x="423.6" y="256.98" width="19.4" height="47.72" fill="#2d4d80"/>
<path d="M433.6 256.98V240.03M428.4 240.03H438.8" stroke="#161616" stroke-width="1.1" fill="none"/>
<rect x="452.4" y="190.52" width="19.6" height="114.18" fill="#54276b"/>
<path d="M462.4 190.52V182.05M457.2 182.05H467.6" stroke="#161616" stroke-width="1.1" fill="none"/>
<text x="433.6" y="240.5" font-size="10" text-anchor="middle" textLength="3.9" lengthAdjust="spacingAndGlyphs" fill="#222" stroke="#222" stroke-width="0.2">*</text>
<text x="462.2" y="182.5" font-size="10" text-anchor="middle" textLength="11.7" lengthAdjust="spacingAndGlyphs" fill="#222" stroke="#222" stroke-width="0.2">***</text>
<path d="M35.7 364.6L35.7 485.12" stroke="#161616" stroke-width="1.25" fill="none"/>
<path d="M32.4 484.5L112 484.5" stroke="#161616" stroke-width="1.25" fill="none"/>
<path d="M32.28 484.5L35.7 484.5" stroke="#161616" stroke-width="1" fill="none"/>
<text x="29.5" y="487.2" font-size="7.9" text-anchor="end" fill="#3a3a3c">0</text>
<path d="M32.28 445.3L35.7 445.3" stroke="#161616" stroke-width="1" fill="none"/>
<text x="29.5" y="448" font-size="7.9" text-anchor="end" fill="#3a3a3c">20</text>
<path d="M32.28 406.1L35.7 406.1" stroke="#161616" stroke-width="1" fill="none"/>
<text x="29.5" y="408.8" font-size="7.9" text-anchor="end" fill="#3a3a3c">40</text>
<path d="M32.28 366.9L35.7 366.9" stroke="#161616" stroke-width="1" fill="none"/>
<text x="29.5" y="369.6" font-size="7.9" text-anchor="end" fill="#3a3a3c">60</text>
<path d="M48.4 484.5L48.4 487.5" stroke="#161616" stroke-width="1" fill="none"/>
<path d="M74 484.5L74 487.5" stroke="#161616" stroke-width="1" fill="none"/>
<path d="M99.6 484.5L99.6 487.5" stroke="#161616" stroke-width="1" fill="none"/>
<text transform="translate(15.2 424.2) rotate(-90)" font-size="9.2" text-anchor="middle" textLength="98.5" lengthAdjust="spacingAndGlyphs" fill="#3a3a3c">Time to initial occlusion (min)</text>
<text x="17" y="498" font-size="8.2" font-style="italic" textLength="12.4" lengthAdjust="spacingAndGlyphs" fill="#3a3a3c">Bak</text>
<text x="17" y="510" font-size="8.2" font-style="italic" textLength="12.6" lengthAdjust="spacingAndGlyphs" fill="#3a3a3c">Bax</text>
<text x="48.4" y="498" font-size="8.2" text-anchor="middle" font-style="italic" textLength="13.4" lengthAdjust="spacingAndGlyphs" fill="#3a3a3c">+/+</text>
<text x="48.4" y="510" font-size="8.2" text-anchor="middle" font-style="italic" textLength="13.4" lengthAdjust="spacingAndGlyphs" fill="#3a3a3c">+/+</text>
<text x="74" y="498" font-size="8.2" text-anchor="middle" font-style="italic" textLength="7.2" lengthAdjust="spacingAndGlyphs" fill="#3a3a3c">-/-</text>
<text x="74" y="510" font-size="8.2" text-anchor="middle" font-style="italic" textLength="9.4" lengthAdjust="spacingAndGlyphs" fill="#3a3a3c">fl/fl</text>
<text x="99.6" y="498" font-size="8.2" text-anchor="middle" font-style="italic" textLength="7.2" lengthAdjust="spacingAndGlyphs" fill="#3a3a3c">-/-</text>
<text x="99.6" y="510" font-size="8.2" text-anchor="middle" textLength="12.6" lengthAdjust="spacingAndGlyphs" fill="#3a3a3c">&#916;/&#916;</text>
<rect x="40" y="462.55" width="17" height="21.95" fill="#b5042e"/>
<path d="M48.4 462.55V459.61M43.7 459.61H53.1" stroke="#161616" stroke-width="1.1" fill="none"/>
<rect x="65.6" y="462.35" width="16.6" height="22.15" fill="#2d4d80"/>
<path d="M74 462.35V454.51M69.4 454.51H78.6" stroke="#161616" stroke-width="1.1" fill="none"/>
<rect x="91" y="451.57" width="16.8" height="32.93" fill="#54276b"/>
<path d="M99.4 451.57V435.5M94.8 435.5H104" stroke="#161616" stroke-width="1.1" fill="none"/>
<text x="74" y="450.6" font-size="7.6" text-anchor="middle" textLength="11.6" lengthAdjust="spacingAndGlyphs" fill="#3a3a3c">n.s.</text>
<text x="99.6" y="432.4" font-size="7.6" text-anchor="middle" textLength="11.6" lengthAdjust="spacingAndGlyphs" fill="#3a3a3c">n.s.</text>
<path d="M167.2 361.4L167.2 485.12" stroke="#161616" stroke-width="1.25" fill="none"/>
<path d="M163.9 484.5L243 484.5" stroke="#161616" stroke-width="1.25" fill="none"/>
<path d="M163.77 484.5L167.2 484.5" stroke="#161616" stroke-width="1" fill="none"/>
<text x="161" y="487.2" font-size="7.9" text-anchor="end" fill="#3a3a3c">0</text>
<path d="M163.77 460.3L167.2 460.3" stroke="#161616" stroke-width="1" fill="none"/>
<text x="161" y="463" font-size="7.9" text-anchor="end" fill="#3a3a3c">20</text>
<path d="M163.77 436.1L167.2 436.1" stroke="#161616" stroke-width="1" fill="none"/>
<text x="161" y="438.8" font-size="7.9" text-anchor="end" fill="#3a3a3c">40</text>
<path d="M163.77 411.9L167.2 411.9" stroke="#161616" stroke-width="1" fill="none"/>
<text x="161" y="414.6" font-size="7.9" text-anchor="end" fill="#3a3a3c">60</text>
<path d="M163.77 387.7L167.2 387.7" stroke="#161616" stroke-width="1" fill="none"/>
<text x="161" y="390.4" font-size="7.9" text-anchor="end" fill="#3a3a3c">80</text>
<path d="M163.77 363.5L167.2 363.5" stroke="#161616" stroke-width="1" fill="none"/>
<text x="161" y="366.2" font-size="7.9" text-anchor="end" fill="#3a3a3c">100</text>
<path d="M180 484.5L180 487.5" stroke="#161616" stroke-width="1" fill="none"/>
<path d="M206.6 484.5L206.6 487.5" stroke="#161616" stroke-width="1" fill="none"/>
<path d="M233 484.5L233 487.5" stroke="#161616" stroke-width="1" fill="none"/>
<text transform="translate(142.6 422.2) rotate(-90)" font-size="9.2" text-anchor="middle" textLength="85.5" lengthAdjust="spacingAndGlyphs" fill="#3a3a3c">Stability of blood flow (%)</text>
<text x="148" y="498" font-size="8.2" font-style="italic" textLength="12.4" lengthAdjust="spacingAndGlyphs" fill="#3a3a3c">Bak</text>
<text x="148" y="511.6" font-size="8.2" font-style="italic" textLength="12.6" lengthAdjust="spacingAndGlyphs" fill="#3a3a3c">Bax</text>
<text x="180" y="498" font-size="8.2" text-anchor="middle" font-style="italic" textLength="13.4" lengthAdjust="spacingAndGlyphs" fill="#3a3a3c">+/+</text>
<text x="180" y="511.6" font-size="8.2" text-anchor="middle" font-style="italic" textLength="13.4" lengthAdjust="spacingAndGlyphs" fill="#3a3a3c">+/+</text>
<text x="206.6" y="498" font-size="8.2" text-anchor="middle" font-style="italic" textLength="7.2" lengthAdjust="spacingAndGlyphs" fill="#3a3a3c">-/-</text>
<text x="206.6" y="511.6" font-size="8.2" text-anchor="middle" font-style="italic" textLength="9.4" lengthAdjust="spacingAndGlyphs" fill="#3a3a3c">fl/fl</text>
<text x="233" y="498" font-size="8.2" text-anchor="middle" font-style="italic" textLength="7.2" lengthAdjust="spacingAndGlyphs" fill="#3a3a3c">-/-</text>
<text x="233" y="511.6" font-size="8.2" text-anchor="middle" textLength="12.6" lengthAdjust="spacingAndGlyphs" fill="#3a3a3c">&#916;/&#916;</text>
<rect x="171" y="363.5" width="18.4" height="13.31" fill="#2d4d80"/>
<rect x="171" y="376.81" width="18.4" height="107.69" fill="#b5042e"/>
<rect x="197.6" y="363.98" width="18" height="52.76" fill="#2d4d80"/>
<rect x="197.6" y="416.74" width="18" height="67.76" fill="#b5042e"/>
<rect x="223.8" y="363.5" width="18.4" height="26.62" fill="#6bb043"/>
<rect x="223.8" y="390.12" width="18.4" height="94.38" fill="#2d4d80"/>
<rect x="151.4" y="515" width="10" height="5.6" fill="#b5042e"/>
<rect x="151.4" y="526" width="10" height="5.6" fill="#2d4d80"/>
<rect x="151.4" y="536.8" width="10" height="5.6" fill="#6bb043"/>
<text x="165" y="519.8" font-size="7.8" textLength="70" lengthAdjust="spacingAndGlyphs" fill="#3a3a3c">Permanent occlusion</text>
<text x="165" y="530.6" font-size="7.8" textLength="88" lengthAdjust="spacingAndGlyphs" fill="#3a3a3c">Highly unstable blood flow</text>
<text x="165" y="541.6" font-size="7.8" textLength="58" lengthAdjust="spacingAndGlyphs" fill="#3a3a3c">Stable blood flow</text>
<path d="M307.5 364.6L307.5 485.12" stroke="#161616" stroke-width="1.25" fill="none"/>
<path d="M304.2 484.5L385 484.5" stroke="#161616" stroke-width="1.25" fill="none"/>
<path d="M304.07 484.5L307.5 484.5" stroke="#161616" stroke-width="1" fill="none"/>
<text x="301.3" y="487.2" font-size="7.9" text-anchor="end" fill="#3a3a3c">0</text>
<path d="M304.07 445.3L307.5 445.3" stroke="#161616" stroke-width="1" fill="none"/>
<text x="301.3" y="448" font-size="7.9" text-anchor="end" fill="#3a3a3c">20</text>
<path d="M304.07 406.1L307.5 406.1" stroke="#161616" stroke-width="1" fill="none"/>
<text x="301.3" y="408.8" font-size="7.9" text-anchor="end" fill="#3a3a3c">40</text>
<path d="M304.07 366.9L307.5 366.9" stroke="#161616" stroke-width="1" fill="none"/>
<text x="301.3" y="369.6" font-size="7.9" text-anchor="end" fill="#3a3a3c">60</text>
<path d="M320.2 484.5L320.2 487.5" stroke="#161616" stroke-width="1" fill="none"/>
<path d="M345.8 484.5L345.8 487.5" stroke="#161616" stroke-width="1" fill="none"/>
<path d="M371.6 484.5L371.6 487.5" stroke="#161616" stroke-width="1" fill="none"/>
<text transform="translate(287 424.3) rotate(-90)" font-size="9.2" text-anchor="middle" textLength="86.3" lengthAdjust="spacingAndGlyphs" fill="#3a3a3c">Vessel patency time (min)</text>
<text x="289" y="498" font-size="8.2" font-style="italic" textLength="12.4" lengthAdjust="spacingAndGlyphs" fill="#3a3a3c">Bak</text>
<text x="289" y="510" font-size="8.2" font-style="italic" textLength="12.6" lengthAdjust="spacingAndGlyphs" fill="#3a3a3c">Bax</text>
<text x="320.2" y="498" font-size="8.2" text-anchor="middle" font-style="italic" textLength="13.4" lengthAdjust="spacingAndGlyphs" fill="#3a3a3c">+/+</text>
<text x="320.2" y="510" font-size="8.2" text-anchor="middle" font-style="italic" textLength="13.4" lengthAdjust="spacingAndGlyphs" fill="#3a3a3c">+/+</text>
<text x="345.8" y="498" font-size="8.2" text-anchor="middle" font-style="italic" textLength="7.2" lengthAdjust="spacingAndGlyphs" fill="#3a3a3c">-/-</text>
<text x="345.8" y="510" font-size="8.2" text-anchor="middle" font-style="italic" textLength="9.4" lengthAdjust="spacingAndGlyphs" fill="#3a3a3c">fl/fl</text>
<text x="371.6" y="498" font-size="8.2" text-anchor="middle" font-style="italic" textLength="7.2" lengthAdjust="spacingAndGlyphs" fill="#3a3a3c">-/-</text>
<text x="371.6" y="510" font-size="8.2" text-anchor="middle" textLength="12.6" lengthAdjust="spacingAndGlyphs" fill="#3a3a3c">&#916;/&#916;</text>
<rect x="312" y="449.02" width="16.6" height="35.48" fill="#b5042e"/>
<path d="M320.2 449.02V440.6M315.5 440.6H324.9" stroke="#161616" stroke-width="1.1" fill="none"/>
<rect x="337.6" y="442.56" width="16.4" height="41.94" fill="#2d4d80"/>
<path d="M345.8 442.56V430.99M341.1 430.99H350.5" stroke="#161616" stroke-width="1.1" fill="none"/>
<rect x="363.4" y="411.59" width="16.6" height="72.91" fill="#54276b"/>
<path d="M371.6 411.59V397.48M366.9 397.48H376.3" stroke="#161616" stroke-width="1.1" fill="none"/>
<text x="345.8" y="427.6" font-size="7.6" text-anchor="middle" textLength="11.6" lengthAdjust="spacingAndGlyphs" fill="#3a3a3c">n.s.</text>
<text x="371.4" y="398.3" font-size="10" text-anchor="middle" textLength="3.9" lengthAdjust="spacingAndGlyphs" fill="#222" stroke="#222" stroke-width="0.2">*</text>
<path d="M436.5 365L436.5 485.12" stroke="#161616" stroke-width="1.25" fill="none"/>
<path d="M433.2 484.5L513.6 484.5" stroke="#161616" stroke-width="1.25" fill="none"/>
<path d="M433.07 484.5L436.5 484.5" stroke="#161616" stroke-width="1" fill="none"/>
<text x="430.3" y="487.2" font-size="7.9" text-anchor="end" fill="#3a3a3c">0</text>
<path d="M433.07 445.3L436.5 445.3" stroke="#161616" stroke-width="1" fill="none"/>
<text x="430.3" y="448" font-size="7.9" text-anchor="end" fill="#3a3a3c">20</text>
<path d="M433.07 406.1L436.5 406.1" stroke="#161616" stroke-width="1" fill="none"/>
<text x="430.3" y="408.8" font-size="7.9" text-anchor="end" fill="#3a3a3c">40</text>
<path d="M433.07 366.9L436.5 366.9" stroke="#161616" stroke-width="1" fill="none"/>
<text x="430.3" y="369.6" font-size="7.9" text-anchor="end" fill="#3a3a3c">60</text>
<path d="M449.4 484.5L449.4 487.5" stroke="#161616" stroke-width="1" fill="none"/>
<path d="M475 484.5L475 487.5" stroke="#161616" stroke-width="1" fill="none"/>
<path d="M500.6 484.5L500.6 487.5" stroke="#161616" stroke-width="1" fill="none"/>
<text transform="translate(416.4 424.7) rotate(-90)" font-size="9.2" text-anchor="middle" textLength="90.5" lengthAdjust="spacingAndGlyphs" fill="#3a3a3c">AUC (ml/min/100g.60min)</text>
<text x="417.6" y="498" font-size="8.2" font-style="italic" textLength="12.4" lengthAdjust="spacingAndGlyphs" fill="#3a3a3c">Bak</text>
<text x="417.6" y="510" font-size="8.2" font-style="italic" textLength="12.6" lengthAdjust="spacingAndGlyphs" fill="#3a3a3c">Bax</text>
<text x="449.4" y="498" font-size="8.2" text-anchor="middle" font-style="italic" textLength="13.4" lengthAdjust="spacingAndGlyphs" fill="#3a3a3c">+/+</text>
<text x="449.4" y="510" font-size="8.2" text-anchor="middle" font-style="italic" textLength="13.4" lengthAdjust="spacingAndGlyphs" fill="#3a3a3c">+/+</text>
<text x="475" y="498" font-size="8.2" text-anchor="middle" font-style="italic" textLength="7.2" lengthAdjust="spacingAndGlyphs" fill="#3a3a3c">-/-</text>
<text x="475" y="510" font-size="8.2" text-anchor="middle" font-style="italic" textLength="9.4" lengthAdjust="spacingAndGlyphs" fill="#3a3a3c">fl/fl</text>
<text x="500.6" y="498" font-size="8.2" text-anchor="middle" font-style="italic" textLength="7.2" lengthAdjust="spacingAndGlyphs" fill="#3a3a3c">-/-</text>
<text x="500.6" y="510" font-size="8.2" text-anchor="middle" textLength="12.6" lengthAdjust="spacingAndGlyphs" fill="#3a3a3c">&#916;/&#916;</text>
<rect x="441" y="460.39" width="16.6" height="24.11" fill="#b5042e"/>
<path d="M449.4 460.39V454.32M444.9 454.32H453.9" stroke="#161616" stroke-width="1.1" fill="none"/>
<rect x="466.6" y="420.8" width="16.4" height="63.7" fill="#2d4d80"/>
<path d="M474.6 420.8V399.24M470.1 399.24H479.1" stroke="#161616" stroke-width="1.1" fill="none"/>
<rect x="492.2" y="404.53" width="16.4" height="79.97" fill="#54276b"/>
<path d="M500.6 404.53V386.89M496.1 386.89H505.1" stroke="#161616" stroke-width="1.1" fill="none"/>
<text x="474.6" y="395.2" font-size="7.6" text-anchor="middle" textLength="11.6" lengthAdjust="spacingAndGlyphs" fill="#3a3a3c">n.s.</text>
<text x="500.6" y="387.5" font-size="10" text-anchor="middle" textLength="7.8" lengthAdjust="spacingAndGlyphs" fill="#222" stroke="#222" stroke-width="0.2">**</text>
<rect x="0.5" y="0.5" width="519" height="549" fill="none" stroke="#000" stroke-width="1"/>
</svg></body></html>
